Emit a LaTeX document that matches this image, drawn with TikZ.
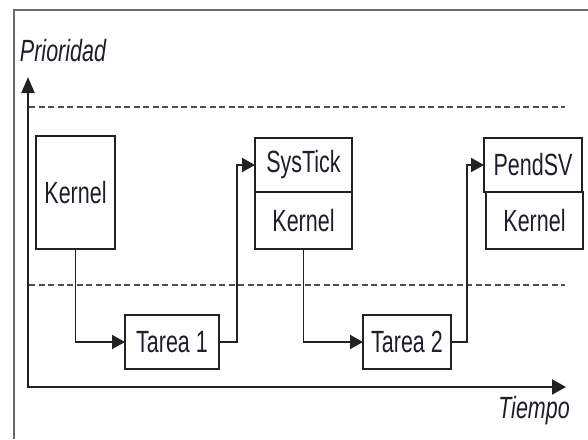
\documentclass[tikz,border=0pt]{standalone}
\usepackage{fontspec}
\setmainfont{Liberation Sans}[FakeStretch=0.7]
\usepackage{xcolor}
\usepackage{tikz}
\usetikzlibrary{positioning,arrows.meta}

\definecolor{inkline}{HTML}{222222}
\definecolor{inktext}{HTML}{1E1E28}
\definecolor{framegray}{HTML}{6A6A6A}

\begin{document}
\begin{tikzpicture}[x=1pt,y=-1pt,font=\fontsize{30.7}{36}\selectfont]

        \edef\sizerow{54pt}
        \tikzstyle{tbox}=[draw=inkline,line width=1.9pt,outer sep=0pt,inner sep=0pt,minimum height=\sizerow,text=inktext]
        \tikzstyle{flow}=[draw=inkline,line width=1.9pt,-{Triangle[length=13pt,width=14pt]}]
        \tikzstyle{axis}=[draw=inkline,line width=2pt,{Triangle[length=16pt,width=13pt]}-{Triangle[length=14pt,width=15pt]}]
        \tikzstyle{level}=[draw=inkline!80,line width=1.7pt,dash pattern=on 6pt off 3.5pt]

        \useasboundingbox (0,0) rectangle (588,439);

        %% Frame
        \draw[framegray,line width=2.4pt] (588,10) -- (14,10) -- (14,439);

        %% Priority levels
        \foreach \yy in {107,285}
            \draw[level] (29,\yy) -- (565,\yy);

        %% Axes
        \coordinate (ytop) at (28,77);
        \coordinate (xend) at (566,387);
        \draw[axis] (ytop) |- (xend);
        \node[text=inktext] (prio) at (63,51) {\itshape Prioridad};
        \node[text=inktext] (tiempo) at (534,411) {\itshape Tiempo};

        %% Boxes
        \node[tbox,minimum width=79pt,minimum height=113pt] (kernA) at (75.5,192.5) {Kernel};
        \node[tbox,minimum width=94pt] (tareaA) at (172,342) {Tarea 1};
        \node[tbox,minimum width=97pt] (systick) at (303.5,165) {SysTick};
        \node[tbox,minimum width=97pt,minimum height=57pt,below=0pt of systick] (kernB) {Kernel};
        \node[tbox,minimum width=88pt] (tareaB) at (407,342) {Tarea 2};
        \node[tbox,minimum width=98pt] (pendsv) at (533,165) {PendSV};
        \node[tbox,minimum width=97pt,minimum height=57pt,below=0pt of pendsv,xshift=1.5pt] (kernC) {Kernel};

        %% Context switches
        \draw[flow] (kernA.south) |- (tareaA.west);
        \draw[flow] (tareaA.east) -- ++(18,0) |- (systick.west);
        \draw[flow] (kernB.south) |- (tareaB.west);
        \draw[flow] (tareaB.east) -- ++(16,0) |- (pendsv.west);

    \end{tikzpicture}
\end{document}
